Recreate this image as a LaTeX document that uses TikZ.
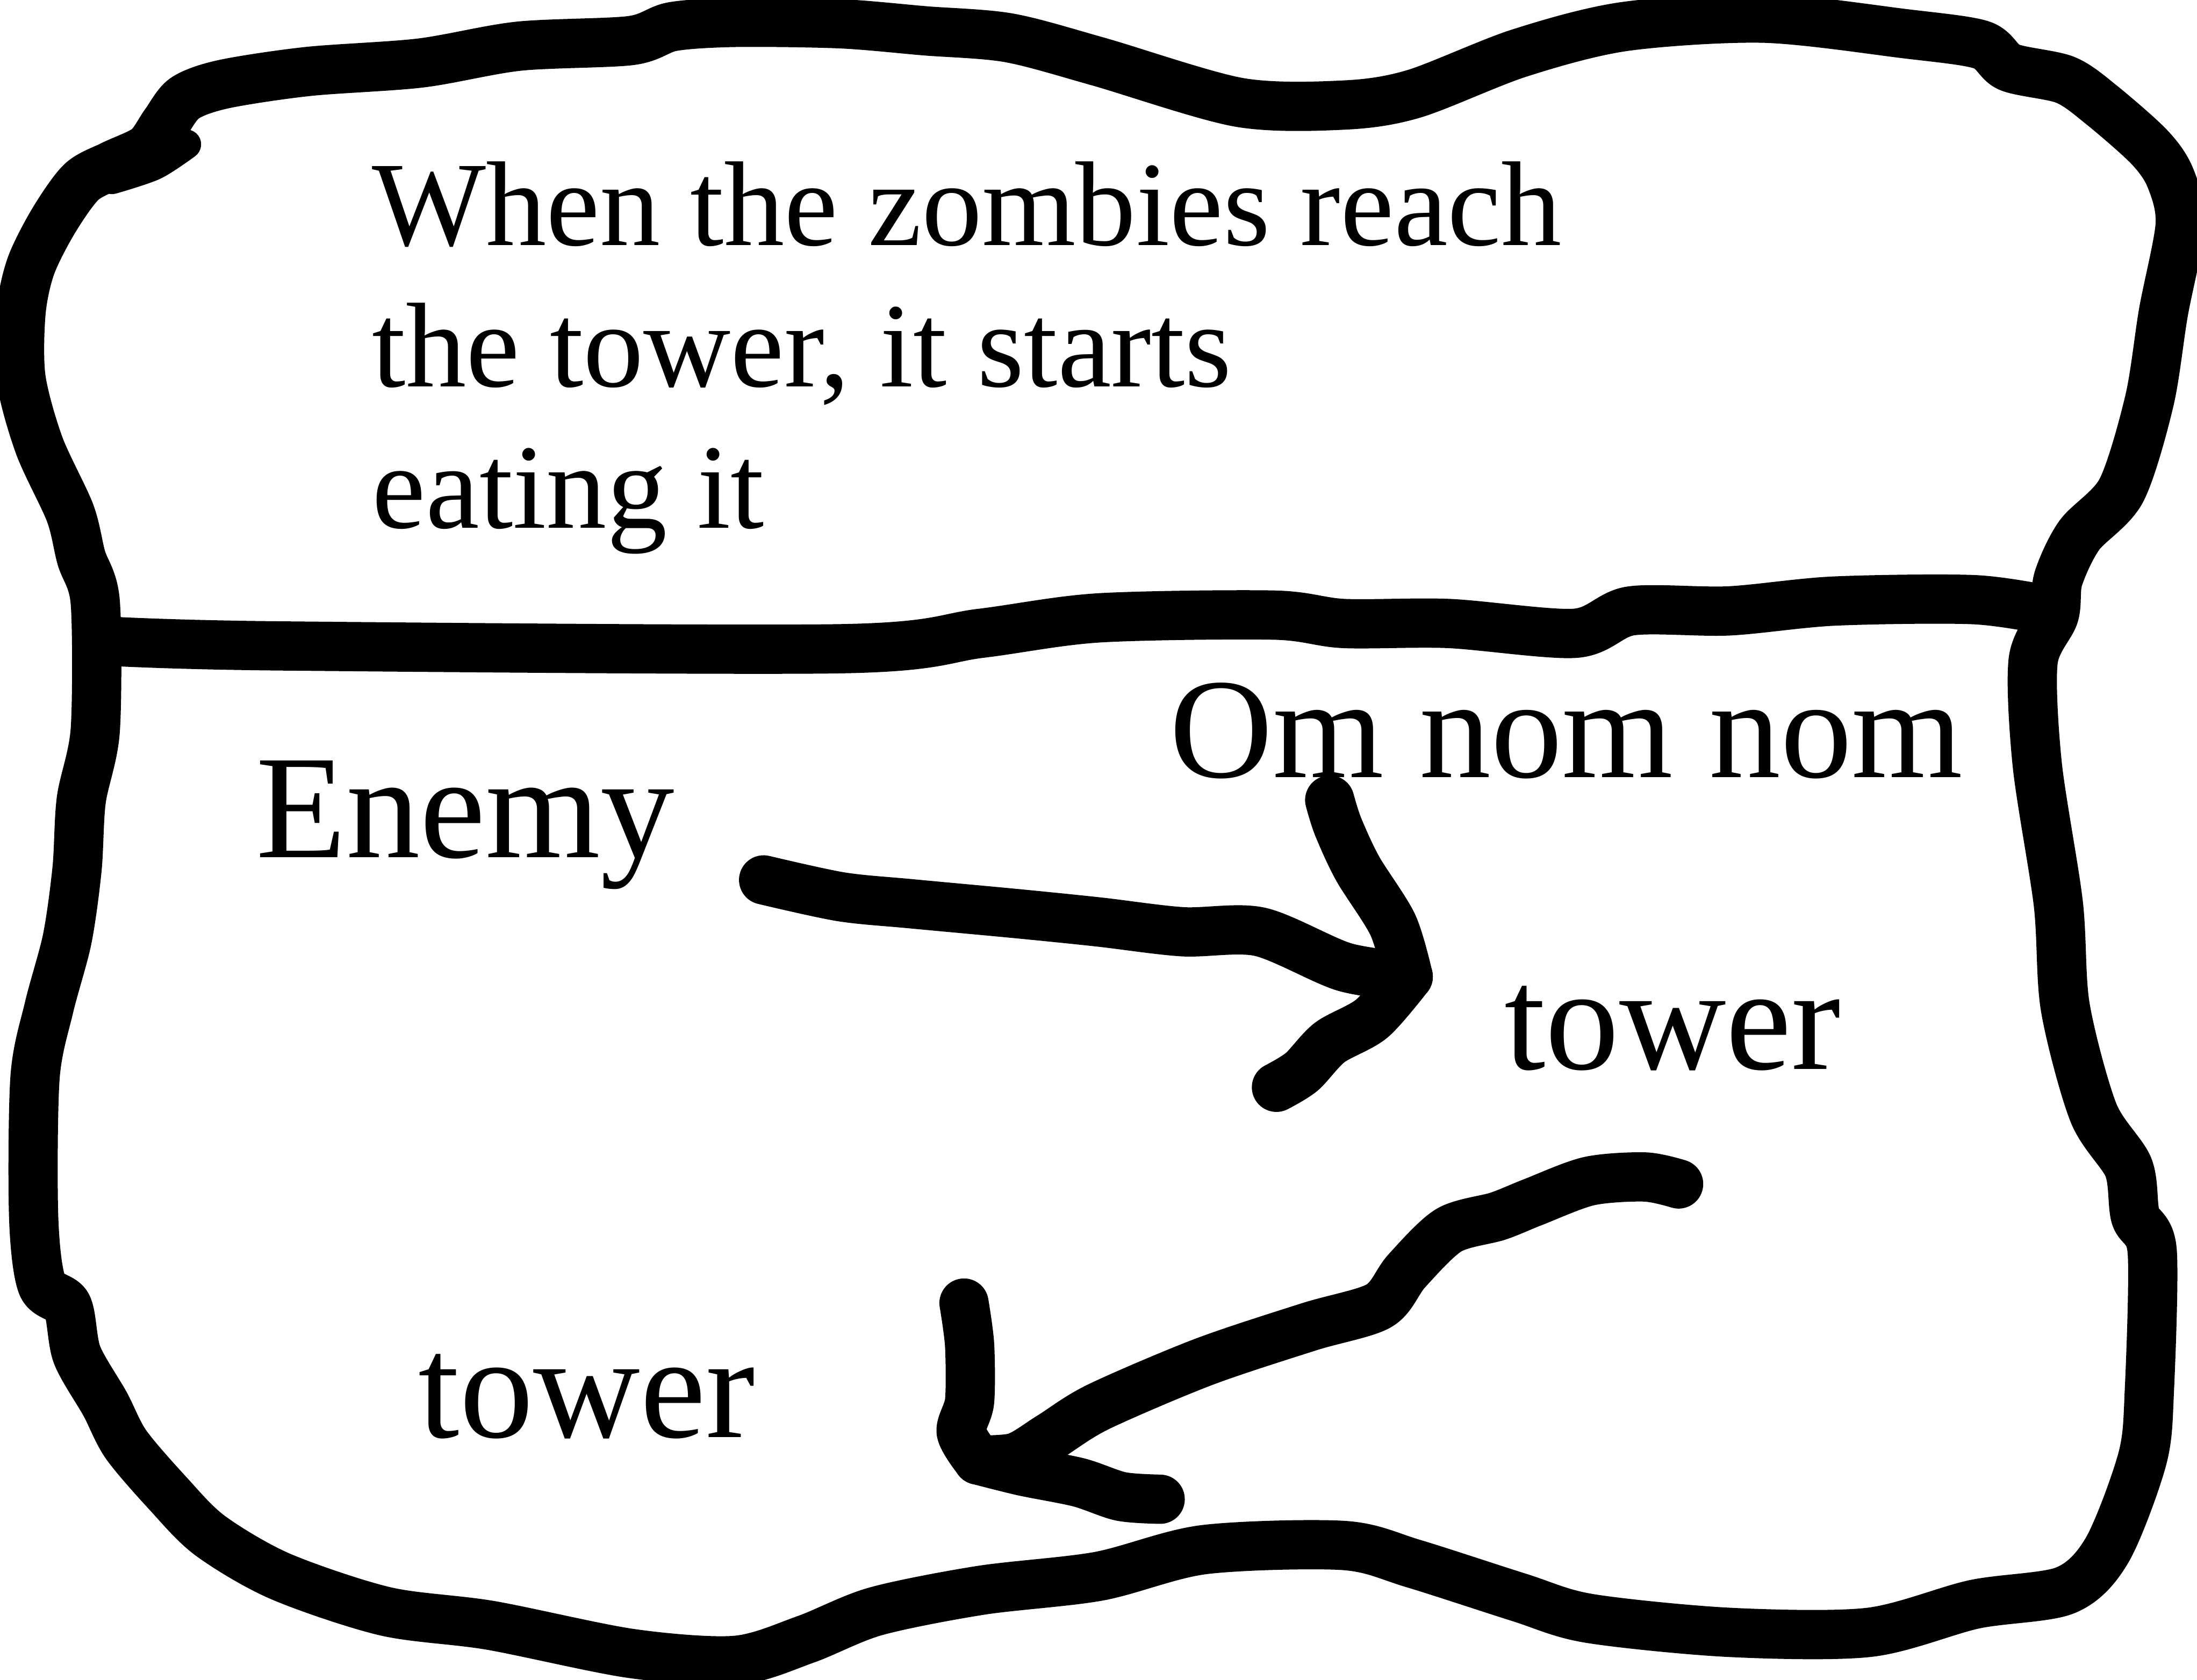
\documentclass[tikz,border=0pt]{standalone}
\usepackage{fontspec}
\setmainfont{Liberation Serif}
\usetikzlibrary{positioning}

\begin{document}
\begin{tikzpicture}[
        sketch/.style={line width=10pt, line cap=round, line join=round},
        note/.style={inner sep=0pt, anchor=base west, font=\fontsize{24.5}{28.7}\selectfont},
        tag/.style={inner sep=0pt, anchor=base west, font=\fontsize{30}{36}\selectfont},
    ]
    \useasboundingbox (0,0) rectangle (15.68,-11.99);

    % Outline
    \draw[sketch] plot[smooth cycle, tension=0.5] coordinates {
        (0.80,-1.18) (1.05,-1.06) (1.18,-0.88) (1.32,-0.70) (1.60,-0.60) (2.20,-0.51) (3.00,-0.45)
        (3.70,-0.33) (4.50,-0.29) (4.80,-0.19) (5.25,-0.16) (6.00,-0.17) (6.60,-0.22)
        (7.20,-0.27) (7.84,-0.44) (8.84,-0.73) (9.59,-0.75) (10.09,-0.67) (10.84,-0.38)
        (11.59,-0.19) (12.59,-0.13) (13.59,-0.24) (14.14,-0.32) (14.34,-0.48) (14.74,-0.57)
        (15.00,-0.75) (15.34,-1.05) (15.49,-1.27) (15.56,-1.60) (15.44,-2.23) (15.34,-2.86)
        (15.14,-3.50) (14.84,-3.82) (14.69,-4.13) (14.66,-4.39) (14.51,-4.72) (14.54,-5.46)
        (14.69,-6.45) (14.74,-7.19) (14.94,-7.94) (15.19,-8.33) (15.24,-8.68) (15.36,-8.93)
        (15.34,-9.92) (15.29,-10.41) (15.04,-11.06) (14.74,-11.35) (14.09,-11.45) (13.34,-11.65)
        (12.34,-11.65) (11.34,-11.55) (10.84,-11.40) (10.09,-11.16) (9.59,-11.03) (8.59,-11.06)
        (7.84,-11.25) (7.00,-11.35) (6.25,-11.50) (5.75,-11.70) (5.25,-11.85) (4.50,-11.80)
        (3.50,-11.60) (2.75,-11.50) (2.00,-11.25) (1.50,-10.96) (1.20,-10.66) (0.90,-10.31)
        (0.75,-10.02) (0.55,-9.67) (0.48,-9.32) (0.30,-9.17) (0.24,-8.68) (0.25,-7.69)
        (0.35,-7.19) (0.48,-6.70) (0.55,-6.20) (0.58,-5.71) (0.68,-5.21) (0.68,-4.30)
        (0.58,-3.98) (0.50,-3.66) (0.28,-3.18) (0.15,-2.70) (0.15,-2.23) (0.22,-1.90)
        (0.38,-1.58) (0.58,-1.30)
    };
    \draw[sketch, line width=6pt] plot[smooth] coordinates {(0.80,-1.28) (1.10,-1.18) (1.33,-1.03)};

    % Divider
    \draw[sketch] plot[smooth] coordinates {
        (0.85,-4.58) (2.00,-4.61) (6.00,-4.63) (7.00,-4.52) (7.84,-4.41) (9.09,-4.39)
        (9.59,-4.45) (10.34,-4.45) (11.24,-4.52) (11.64,-4.36) (12.34,-4.36) (13.09,-4.29)
        (14.09,-4.28) (14.64,-4.36)
    };

    % Texts
    \node[note] (line1) at (2.65,-1.75) {When the zombies reach};
    \node[note] (line2) at (2.65,-2.76) {the tower, it starts};
    \node[note] (line3) at (2.65,-3.77) {eating it};
    \node[tag] (enemy) at (1.82,-6.12) {Enemy};
    \node[tag, font=\fontsize{29}{35}\selectfont] (omnom) at (8.34,-5.55) {Om nom nom};
    \node[tag] (tower1) at (10.73,-7.63) {tower};
    \node[tag] (tower2) at (2.98,-10.26) {tower};

    % Arrow: Enemy to tower
    \coordinate (a1start) at (5.45,-6.28);
    \coordinate (a1tip) at (10.05,-6.97);
    \draw[sketch] plot[smooth] coordinates {
        (a1start) (6.00,-6.40) (6.50,-6.45) (7.25,-6.52) (7.84,-6.58) (8.44,-6.65)
        (8.99,-6.65) (9.59,-6.90) (a1tip)
    };
    \draw[sketch] plot[smooth] coordinates {(9.49,-5.71) (9.55,-5.90) (9.69,-6.20) (9.94,-6.60) (a1tip)};
    \draw[sketch] plot[smooth] coordinates {(a1tip) (9.79,-7.27) (9.49,-7.44) (9.29,-7.65) (9.11,-7.76)};

    % Arrow: tower to tower
    \coordinate (a2start) at (11.98,-8.45);
    \coordinate (a2tip) at (6.98,-10.42);
    \draw[sketch] plot[smooth] coordinates {
        (a2start) (11.74,-8.40) (11.34,-8.43) (10.94,-8.58) (10.69,-8.68) (10.34,-8.78)
        (10.04,-9.07) (9.84,-9.32) (9.34,-9.47) (8.59,-9.72) (7.84,-10.04) (7.50,-10.25)
        (7.25,-10.40) (a2tip)
    };
    \draw[sketch] plot[smooth] coordinates {(6.88,-9.30) (6.92,-9.60) (6.92,-10.00) (6.86,-10.22) (a2tip)};
    \draw[sketch] plot[smooth] coordinates {(a2tip) (7.30,-10.50) (7.70,-10.58) (8.00,-10.68) (8.28,-10.70)};

\end{tikzpicture}
\end{document}
